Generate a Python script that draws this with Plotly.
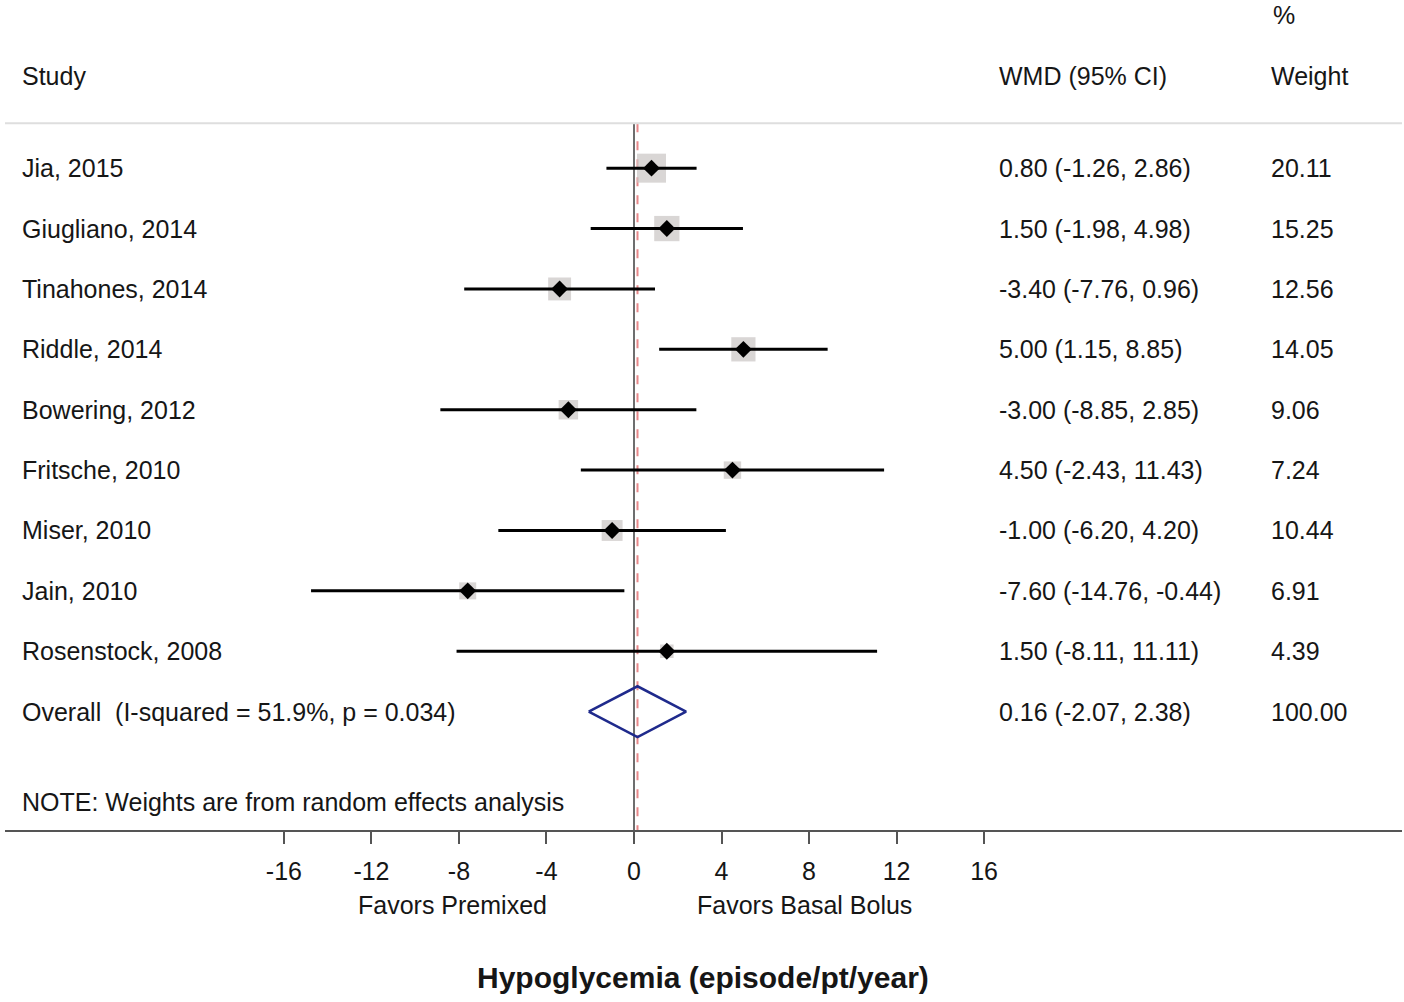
import plotly.graph_objects as go
import numpy as np

# ---- data ----
studies = ["Jia, 2015", "Giugliano, 2014", "Tinahones, 2014", "Riddle, 2014",
           "Bowering, 2012", "Fritsche, 2010", "Miser, 2010", "Jain, 2010",
           "Rosenstock, 2008"]
wmd = [0.80, 1.50, -3.40, 5.00, -3.00, 4.50, -1.00, -7.60, 1.50]
ci_low = [-1.26, -1.98, -7.76, 1.15, -8.85, -2.43, -6.20, -14.76, -8.11]
ci_high = [2.86, 4.98, 0.96, 8.85, 2.85, 11.43, 4.20, -0.44, 11.11]
weights = [20.11, 15.25, 12.56, 14.05, 9.06, 7.24, 10.44, 6.91, 4.39]

overall_label = "Overall  (I-squared = 51.9%, p = 0.034)"
overall_est, overall_low, overall_high = 0.16, -2.07, 2.38
overall_weight = 100.00

tick_vals = [-16, -12, -8, -4, 0, 4, 8, 12, 16]

FONT = "Liberation Sans, Arial, sans-serif"
TXT = "#161616"

rows = list(range(len(studies)))
overall_row = len(studies)

fig = go.Figure()

# weight boxes (area proportional to weight)
box_sizes = [29 * np.sqrt(w / max(weights)) for w in weights]
fig.add_trace(go.Scatter(
    x=wmd, y=rows, mode="markers",
    marker=dict(symbol="square", size=box_sizes, color="#c9c4c3", line=dict(width=0)),
    hoverinfo="skip", showlegend=False))

# confidence intervals
cx, cy = [], []
for lo, hi, r in zip(ci_low, ci_high, rows):
    cx += [lo, hi, None]
    cy += [r, r, None]
fig.add_trace(go.Scatter(x=cx, y=cy, mode="lines",
                         line=dict(color="black", width=3),
                         hoverinfo="skip", showlegend=False))

# point estimates
fig.add_trace(go.Scatter(
    x=wmd, y=rows, mode="markers",
    marker=dict(symbol="diamond", size=13, color="black"),
    hoverinfo="skip", showlegend=False))

# pooled estimate diamond
h = 0.42
fig.add_trace(go.Scatter(
    x=[overall_low, overall_est, overall_high, overall_est, overall_low],
    y=[overall_row, overall_row - h, overall_row, overall_row + h, overall_row],
    mode="lines", line=dict(color="#1f2a8c", width=2.5),
    hoverinfo="skip", showlegend=False))

y_top = -0.745  # header separator
y_bottom = 10.96  # axis line

# null line and overall effect line
fig.add_shape(type="line", x0=0, x1=0, y0=y_top, y1=y_bottom,
              line=dict(color="#6e6e6e", width=2), layer="below")
fig.add_shape(type="line", x0=overall_est, x1=overall_est, y0=y_top, y1=y_bottom,
              line=dict(color="#e8888a", width=2, dash="dash"), layer="below")

# header separator
fig.add_shape(type="line", xref="paper", x0=0, x1=1, y0=y_top, y1=y_top,
              line=dict(color="#dedede", width=2))

W = 1404
L, R = 5, 2


def px(xpix):
    return (xpix - L) / (W - L - R)


def note(text, xpix, y, size=25, anchor="left", bold=False, yref="y"):
    fig.add_annotation(
        x=px(xpix), xref="paper", y=y, yref=yref, text=f"<b>{text}</b>" if bold else text,
        showarrow=False, xanchor=anchor, yanchor="middle",
        font=dict(family=FONT, size=size, color=TXT))


# headers
note("Study", 20, -1.52)
note("WMD (95% CI)", 997, -1.52)
note("%", 1271, -2.53)
note("Weight", 1269, -1.52)

# row text
for r, s, e, lo, hi, w in zip(rows, studies, wmd, ci_low, ci_high, weights):
    note(s, 20, r)
    note(f"{e:.2f} ({lo:.2f}, {hi:.2f})", 997, r)
    note(f"{w:.2f}", 1269, r)

note(overall_label, 20, overall_row)
note(f"{overall_est:.2f} ({overall_low:.2f}, {overall_high:.2f})", 997, overall_row)
note(f"{overall_weight:.2f}", 1269, overall_row)
note("NOTE: Weights are from random effects analysis", 20, 10.5)

# labels under the axis
H = 1002
B = H - 830


def py(ypix):
    return (830 - ypix) / 830


note("Favors Premixed", 452, py(905), anchor="center", yref="paper")
note("Favors Basal Bolus", 804, py(905), anchor="center", yref="paper")
note("Hypoglycemia (episode/pt/year)", 703, py(977), size=30, anchor="center",
     bold=True, yref="paper")

fig.update_layout(
    width=W, height=H,
    margin=dict(l=L, r=R, t=0, b=B, pad=0),
    plot_bgcolor="white", paper_bgcolor="white",
    xaxis=dict(range=[(L - 634) / 21.88, (W - R - 634) / 21.88],
               tickvals=tick_vals, ticktext=[str(v) for v in tick_vals],
               showgrid=False, zeroline=False, showline=True,
               linecolor="#555555", linewidth=2,
               ticks="outside", ticklen=12, tickwidth=2, tickcolor="#555555",
               ticklabelstandoff=6,
               tickfont=dict(family=FONT, size=25, color=TXT)),
    yaxis=dict(range=[y_bottom, y_top - 2.04], visible=False,
               showgrid=False, zeroline=False),
)

fig.write_html("out.html")
